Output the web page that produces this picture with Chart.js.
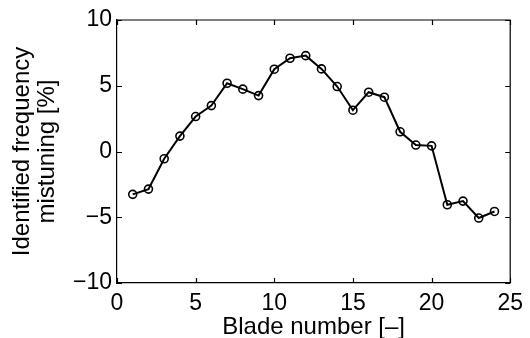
<!DOCTYPE html>
<html>
<head>
<meta charset="utf-8">
<script src="https://cdn.jsdelivr.net/npm/chart.js@4"></script>
<style>
html,body{margin:0;padding:0;background:#fff;}
#wrap{width:530px;height:338px;position:relative;}
</style>
</head>
<body>
<div id="wrap"><canvas id="c" width="530" height="338"></canvas></div>
<script>
const blades = [1,2,3,4,5,6,7,8,9,10,11,12,13,14,15,16,17,18,19,20,21,22,23,24];
const mistuning = [-3.26,-2.86,-0.55,1.17,2.66,3.49,5.19,4.74,4.25,6.26,7.09,7.29,6.28,4.94,3.14,4.51,4.13,1.50,0.49,0.43,-4.05,-3.77,-5.06,-4.56];
const xTicks = [0,5,10,15,20,25];
const yTicks = [-10,-5,0,5,10];
const xTitle = 'Blade number [–]';
const yTitle = ['Identified frequency','mistuning [%]'];

const FONT = '"Liberation Sans", Arial, Helvetica, sans-serif';
const fmt = v => (v < 0 ? '\u2212' + Math.abs(v) : String(v));

const innerTicks = {
  id: 'innerTicks',
  afterDatasetsDraw(chart) {
    const {ctx, chartArea: a, scales: {x, y}} = chart;
    const L = 5;
    ctx.save();
    ctx.strokeStyle = '#000';
    ctx.lineWidth = 1.2;
    ctx.beginPath();
    ctx.moveTo(a.left, a.top); ctx.lineTo(a.right, a.top); ctx.lineTo(a.right, a.bottom);
    xTicks.forEach(v => {
      const px = Math.round(x.getPixelForValue(v)) + 0.5;
      ctx.moveTo(px, a.bottom); ctx.lineTo(px, a.bottom - L);
      ctx.moveTo(px, a.top); ctx.lineTo(px, a.top + L);
    });
    yTicks.forEach(v => {
      const py = Math.round(y.getPixelForValue(v)) + 0.5;
      ctx.moveTo(a.left, py); ctx.lineTo(a.left + L, py);
      ctx.moveTo(a.right, py); ctx.lineTo(a.right - L, py);
    });
    ctx.stroke();
    ctx.restore();
  }
};

new Chart(document.getElementById('c'), {
  type: 'line',
  data: {
    datasets: [{
      data: blades.map((b, i) => ({x: b, y: mistuning[i]})),
      borderColor: '#000',
      borderWidth: 2,
      pointRadius: 4,
      pointBorderWidth: 1.6,
      pointBorderColor: '#000',
      pointBackgroundColor: 'rgba(0,0,0,0)',
      tension: 0
    }]
  },
  options: {
    responsive: false,
    animation: false,
    events: [],
    layout: {padding: {top: 20, right: 17, left: 0, bottom: 0}},
    plugins: {legend: {display: false}, tooltip: {enabled: false}},
    scales: {
      x: {
        type: 'linear', min: 0, max: 25,
        afterBuildTicks: s => { s.ticks = xTicks.map(v => ({value: v})); },
        afterFit: s => { s.height = 55; },
        grid: {display: false, drawTicks: false},
        border: {display: true, color: '#000', width: 1.2},
        ticks: {color: '#000', font: {family: FONT, size: 23}, padding: 7, maxRotation: 0, callback: fmt},
        title: {display: true, text: xTitle, color: '#000', font: {family: FONT, size: 24}, padding: {top: 0, bottom: -4}}
      },
      y: {
        type: 'linear', min: -10, max: 10,
        afterBuildTicks: s => { s.ticks = yTicks.map(v => ({value: v})); },
        afterFit: s => { s.width = 117; },
        grid: {display: false, drawTicks: false},
        border: {display: true, color: '#000', width: 1.2},
        ticks: {color: '#000', font: {family: FONT, size: 23}, padding: 5, callback: fmt},
        title: {display: true, text: yTitle, color: '#000', font: {family: FONT, size: 24, lineHeight: 1.05}, padding: {top: 10, bottom: 0}}
      }
    }
  },
  plugins: [innerTicks, {
    id: 'bg',
    beforeDraw(c) { const x = c.ctx; x.save(); x.fillStyle = '#fff'; x.fillRect(0, 0, c.width, c.height); x.restore(); }
  }]
});
</script>
</body>
</html>
